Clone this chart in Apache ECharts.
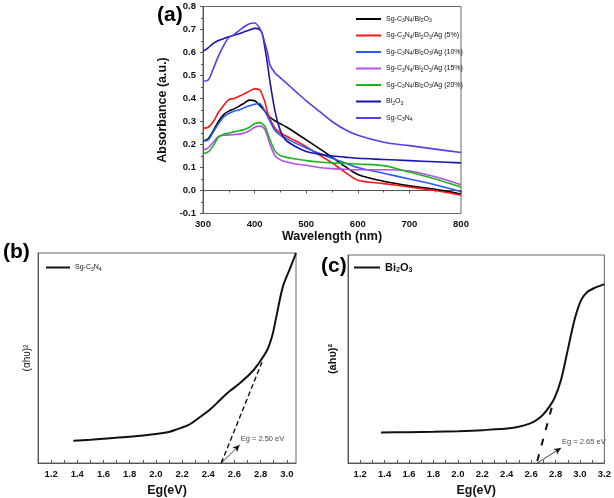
<!DOCTYPE html>
<html><head><meta charset="utf-8">
<script src="https://cdn.jsdelivr.net/npm/echarts@6/dist/echarts.min.js"></script>
<style>html,body{margin:0;padding:0;background:#fff}#c{width:614px;height:498px}</style>
</head><body><div id="c"></div>
<script>
// ---- Panel (a): UV-vis absorbance ----
const wavelength = [300,310,320,330,340,350,360,370,380,390,400,410,415,420,425,430,440,450,460,480,500,525,550,575,600,650,700,750,800];
const absBiAg0  = [.215,.225,.26,.30,.33,.345,.355,.367,.38,.393,.39,.37,.358,.345,.33,.318,.302,.29,.278,.25,.22,.183,.145,.105,.07,.04,.02,.005,-.015];
const absAg5    = [.27,.275,.30,.34,.37,.395,.40,.41,.42,.432,.442,.437,.415,.385,.34,.31,.27,.25,.238,.215,.19,.155,.12,.08,.045,.03,.015,.0,-.02];
const absAg10   = [.215,.22,.255,.29,.32,.335,.345,.35,.36,.368,.375,.378,.365,.345,.322,.30,.26,.24,.228,.205,.185,.162,.14,.12,.10,.075,.05,.025,-.005];
const absAg15   = [.175,.185,.21,.235,.24,.242,.243,.245,.25,.26,.275,.28,.277,.265,.235,.20,.15,.133,.125,.115,.11,.10,.095,.092,.09,.09,.085,.06,.025];
const absAg20   = [.16,.168,.195,.232,.245,.25,.255,.26,.265,.275,.29,.295,.29,.28,.25,.22,.17,.152,.145,.137,.13,.124,.12,.118,.115,.108,.08,.05,.015];
const absBi2O3  = [.605,.62,.64,.652,.66,.668,.675,.682,.69,.698,.705,.70,.68,.62,.55,.47,.34,.26,.22,.19,.17,.158,.15,.145,.14,.135,.13,.125,.12];
const absSgC3N4 = [.475,.48,.53,.585,.63,.665,.678,.695,.712,.725,.728,.705,.68,.64,.60,.545,.51,.49,.47,.43,.39,.345,.30,.265,.24,.21,.195,.18,.165];
const seriesNamesA = ['Sg-C3N4/Bi2O3','Sg-C3N4/Bi2O3/Ag (5%)','Sg-C3N4/Bi2O3/Ag (10%)','Sg-C3N4/Bi2O3/Ag (15%)','Sg-C3N4/Bi2O3/Ag (20%)','Bi2O3','Sg-C3N4'];
const seriesDataA = [absBiAg0, absAg5, absAg10, absAg15, absAg20, absBi2O3, absSgC3N4];
const colorsA = ['#000000','#ff1414','#2a5cf2','#b24ff0','#1cb41c','#1616a8','#5a3cf0'];
const ticksA_y = ['-0.1','0.0','0.1','0.2','0.3','0.4','0.5','0.6','0.7','0.8'];

// ---- Panel (b): Tauc plot Sg-C3N4 ----
const egB   = [1.37,1.5,1.6,1.8,2.0,2.1,2.16,2.25,2.34,2.42,2.49,2.56,2.64,2.72,2.78,2.85,2.89,2.92,2.97,3.03,3.07];
const taucB = [0.106,0.111,0.116,0.125,0.138,0.148,0.160,0.181,0.220,0.258,0.300,0.340,0.380,0.425,0.470,0.538,0.610,0.697,0.840,0.935,1.0];
const tangentB = [[2.50,0],[2.81,0.48]];
const arrowB = [[2.50,0],[2.64,0.086]];
const labelB = 'Eg = 2.50 eV';

// ---- Panel (c): Tauc plot Bi2O3 ----
const egC   = [1.37,1.6,1.8,2.0,2.2,2.44,2.55,2.62,2.68,2.73,2.79,2.845,2.90,2.955,3.01,3.06,3.12,3.2];
const taucC = [0.147,0.148,0.150,0.153,0.158,0.168,0.182,0.198,0.222,0.255,0.310,0.400,0.544,0.688,0.784,0.822,0.842,0.860];
const tangentC = [[2.65,0.01],[2.78,0.29]];
const arrowC = [[2.65,0],[2.845,0.072]];
const labelC = 'Eg = 2.65 eV';

const ticksBC_x = ['1.2','1.4','1.6','1.8','2.0','2.2','2.4','2.6','2.8','3.0','3.2'];

const FONT = 'Liberation Sans';
function rich(name){
  return name.replace(/([CNO])(\d)/g, '$1{s|$2}').replace(/Bi(\d)/g,'Bi{s|$1}');
}
const legRich = {s:{fontSize:5,fontFamily:FONT,padding:[4,0,0,0]}};

const chart = echarts.init(document.getElementById('c'), null, {renderer:'canvas'});
const labFmtBC = v => { const s = v.toFixed(1); return ticksBC_x.includes(s) && Math.abs(v*10-Math.round(v*10))<1e-6 ? s : ''; };
const axisLab = {fontFamily:FONT,fontWeight:'bold',fontSize:9.5,color:'#111'};
const axLine = {lineStyle:{color:'#555',width:1}};

const series = [];
seriesNamesA.forEach((n,i)=>{
  series.push({name:n,type:'line',xAxisIndex:0,yAxisIndex:0,smooth:0.3,symbol:'none',
    lineStyle:{width:1.6,color:colorsA[i]},itemStyle:{color:colorsA[i]},
    data: wavelength.map((w,k)=>[w,seriesDataA[i][k]])});
});
series.push({name:'b:Sg-C3N4',type:'line',xAxisIndex:1,yAxisIndex:1,smooth:0.3,symbol:'none',
  lineStyle:{width:2,color:'#111'},itemStyle:{color:'#111'},data:egB.map((x,k)=>[x,taucB[k]])});
series.push({name:'tanB',type:'line',xAxisIndex:1,yAxisIndex:1,symbol:'none',
  lineStyle:{width:1.4,color:'#111',type:[5,3]},data:tangentB,
  markLine:{silent:true,symbol:['none','arrow'],symbolSize:[5,7],lineStyle:{type:'solid',color:'#111',width:0.8},label:{show:false},
    data:[[{coord:arrowB[0]},{coord:arrowB[1]}]]}});
series.push({name:'labB',type:'scatter',xAxisIndex:1,yAxisIndex:1,symbolSize:0,
  label:{show:true,position:'right',distance:1,formatter:labelB,fontFamily:FONT,fontSize:7.5,color:'#111'},
  data:[[arrowB[1][0],arrowB[1][1]+0.03]]});
series.push({name:'c:Bi2O3',type:'line',xAxisIndex:2,yAxisIndex:2,smooth:0.3,symbol:'none',
  lineStyle:{width:2,color:'#111'},itemStyle:{color:'#111'},data:egC.map((x,k)=>[x,taucC[k]])});
series.push({name:'tanC',type:'line',xAxisIndex:2,yAxisIndex:2,symbol:'none',
  lineStyle:{width:2,color:'#111',type:[7,9]},data:tangentC,
  markLine:{silent:true,symbol:['none','arrow'],symbolSize:[5,7],lineStyle:{type:'solid',color:'#111',width:0.8},label:{show:false},
    data:[[{coord:arrowC[0]},{coord:arrowC[1]}]]}});
series.push({name:'labC',type:'scatter',xAxisIndex:2,yAxisIndex:2,symbolSize:0,
  label:{show:true,position:'right',distance:1,formatter:labelC,fontFamily:FONT,fontSize:7.5,color:'#111'},
  data:[[arrowC[1][0],arrowC[1][1]+0.03]]});

chart.setOption({
  animation:false,
  backgroundColor:'#fff',
  title:[
    {text:'(a)',left:152,top:0,textStyle:{fontFamily:FONT,fontWeight:'bold',fontSize:21,color:'#000'}},
    {text:'(b)',left:-2,top:237,textStyle:{fontFamily:FONT,fontWeight:'bold',fontSize:21,color:'#000'}},
    {text:'(c)',left:316,top:251,textStyle:{fontFamily:FONT,fontWeight:'bold',fontSize:21,color:'#000'}}
  ],
  grid:[
    {left:203,top:6.5,width:258,height:207,show:true,borderColor:'#666',borderWidth:1},
    {left:38,top:253,width:258,height:210,show:true,borderColor:'#666',borderWidth:1},
    {left:348,top:255,width:259,height:208,show:true,borderColor:'#666',borderWidth:1}
  ],
  legend:[
    {data:seriesNamesA,orient:'vertical',left:351,top:9,icon:'rect',itemWidth:25,itemHeight:2,itemGap:6.5,
     textStyle:{fontFamily:FONT,fontSize:7,color:'#111',lineHeight:10,rich:legRich},
     formatter:n=>rich(n),selectedMode:false},
    {data:['b:Sg-C3N4'],left:41,top:259,icon:'rect',itemWidth:24,itemHeight:2,
     textStyle:{fontFamily:FONT,fontSize:7,color:'#111',rich:legRich},formatter:()=>rich('Sg-C3N4'),selectedMode:false},
    {data:['c:Bi2O3'],left:349,top:257,icon:'rect',itemWidth:26,itemHeight:2,
     textStyle:{fontFamily:FONT,fontSize:11,fontWeight:'bold',color:'#111',rich:{s:{fontSize:7,fontWeight:'bold',fontFamily:FONT,padding:[6,0,0,0]}}},formatter:()=>rich('Bi2O3'),selectedMode:false}
  ],
  xAxis:[
    {gridIndex:0,type:'value',min:300,max:800,interval:100,
     name:'Wavelength (nm)',nameLocation:'middle',nameGap:17,nameTextStyle:{fontFamily:FONT,fontWeight:'bold',fontSize:12.5,color:'#111'},
     axisLine:axLine,axisTick:{length:3,lineStyle:{color:'#555'}},minorTick:{show:true,splitNumber:2,length:2,lineStyle:{color:'#555'}},
     splitLine:{show:false},axisLabel:Object.assign({margin:6},axisLab)},
    {gridIndex:1,type:'value',min:1.1,max:3.07,interval:0.1,
     name:'Eg(eV)',nameLocation:'middle',nameGap:21,nameTextStyle:{fontFamily:FONT,fontWeight:'bold',fontSize:12.5,color:'#111'},
     axisLine:axLine,axisTick:{inside:true,length:3,lineStyle:{color:'#555'}},splitLine:{show:false},
     axisLabel:Object.assign({margin:6,formatter:labFmtBC,showMaxLabel:false},axisLab)},
    {gridIndex:2,type:'value',min:1.1,max:3.2,interval:0.1,
     name:'Eg(eV)',nameLocation:'middle',nameGap:21,nameTextStyle:{fontFamily:FONT,fontWeight:'bold',fontSize:12.5,color:'#111'},
     axisLine:axLine,axisTick:{inside:true,length:3,lineStyle:{color:'#555'}},splitLine:{show:false},
     axisLabel:Object.assign({margin:6,formatter:labFmtBC},axisLab)}
  ],
  yAxis:[
    {gridIndex:0,type:'value',min:-0.1,max:0.8,interval:0.1,
     name:'Absorbance (a.u.)',nameLocation:'middle',nameGap:34,nameTextStyle:{fontFamily:FONT,fontWeight:'bold',fontSize:12.5,color:'#111'},
     axisLine:Object.assign({show:true},axLine),axisTick:{show:true,length:3,lineStyle:{color:'#555'}},
     minorTick:{show:true,splitNumber:2,length:2,lineStyle:{color:'#555'}},splitLine:{show:false},
     axisLabel:Object.assign({margin:7,formatter:v=>{const s=v.toFixed(1);return ticksA_y.includes(s)?(s==='-0.0'?'0.0':s):'';}},axisLab)},
    {gridIndex:1,type:'value',min:0,max:1,
     name:'(αhυ)²',nameLocation:'middle',nameGap:6,nameTextStyle:{fontFamily:FONT,fontSize:10,color:'#111'},
     axisLine:{show:true,lineStyle:{color:'#555'}},axisTick:{show:false},axisLabel:{show:false},splitLine:{show:false}},
    {gridIndex:2,type:'value',min:0,max:1,
     name:'(ahυ)²',nameLocation:'middle',nameGap:10,nameTextStyle:{fontFamily:FONT,fontWeight:'bold',fontSize:11,color:'#111'},
     axisLine:{show:true,lineStyle:{color:'#555'}},axisTick:{show:false},axisLabel:{show:false},splitLine:{show:false}}
  ],
  series:series
});
</script></body></html>
